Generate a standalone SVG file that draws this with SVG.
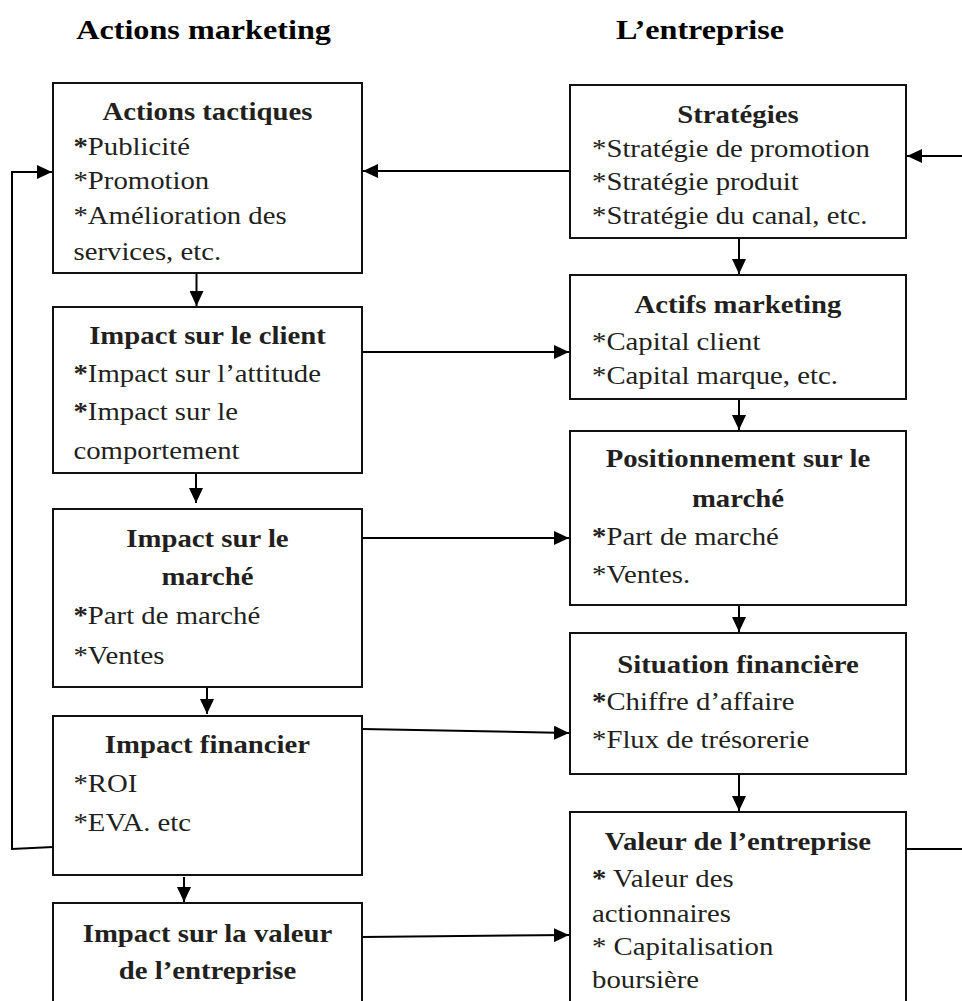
<svg xmlns="http://www.w3.org/2000/svg" width="962" height="1001" viewBox="0 0 962 1001">
<style>
.box{fill:#fff;stroke:#111;stroke-width:2}
.ln{fill:none;stroke:#000;stroke-width:2}
text{font-family:"Liberation Serif","Times New Roman",serif;font-size:25px;fill:#231f20}
.h{font-size:28px;font-weight:bold;fill:#000;text-anchor:middle}
.t{font-weight:bold;text-anchor:middle}
.b{font-weight:bold}
</style>
<defs>
<marker id="arr" markerUnits="userSpaceOnUse" markerWidth="15" markerHeight="14" refX="15" refY="7" orient="auto">
<path d="M0,0 L15,7 L0,14 z" fill="#000"/>
</marker>
</defs>
<g id="connectors">
<line class="ln" x1="570" y1="171" x2="363" y2="171" marker-end="url(#arr)"/>
<line class="ln" x1="962" y1="156" x2="907" y2="156" marker-end="url(#arr)"/>
<polyline class="ln" points="53,847 12,849 12,172 52,172" marker-end="url(#arr)"/>
<line class="ln" x1="362" y1="352" x2="569" y2="352" marker-end="url(#arr)"/>
<line class="ln" x1="362" y1="538" x2="569" y2="538" marker-end="url(#arr)"/>
<line class="ln" x1="362" y1="729" x2="569" y2="733" marker-end="url(#arr)"/>
<line class="ln" x1="362" y1="937" x2="569" y2="935" marker-end="url(#arr)"/>
<line class="ln" x1="906" y1="849" x2="962" y2="849"/>
<line class="ln" x1="196.5" y1="273" x2="196.5" y2="306" marker-end="url(#arr)"/>
<line class="ln" x1="196" y1="473" x2="196" y2="503" marker-end="url(#arr)"/>
<line class="ln" x1="207" y1="687" x2="207" y2="714" marker-end="url(#arr)"/>
<line class="ln" x1="184" y1="877" x2="184" y2="902" marker-end="url(#arr)"/>
<line class="ln" x1="739" y1="238" x2="739" y2="274" marker-end="url(#arr)"/>
<line class="ln" x1="739" y1="399" x2="739" y2="430" marker-end="url(#arr)"/>
<line class="ln" x1="739" y1="605" x2="739" y2="632" marker-end="url(#arr)"/>
<line class="ln" x1="739" y1="774" x2="739" y2="811" marker-end="url(#arr)"/>
</g>
<g id="headers" transform="scale(1.15,1)">
<text class="h" x="177" y="39">Actions marketing</text>
<text class="h" x="608.7" y="39">L’entreprise</text>
</g>
<g id="actions-tactiques">
<rect class="box" x="53" y="83" width="309" height="190"/>
<g transform="scale(1.15,1)">
<text class="t" x="180.4" y="120">Actions tactiques</text>
<text x="63.9" y="155"><tspan class="b">*</tspan>Publicité</text>
<text x="63.9" y="189">*Promotion</text>
<text x="63.9" y="224">*Amélioration des</text>
<text x="63.9" y="260">services, etc.</text>
</g>
</g>
<g id="impact-client">
<rect class="box" x="53" y="307" width="309" height="166"/>
<g transform="scale(1.15,1)">
<text class="t" x="180.4" y="344">Impact sur le client</text>
<text x="63.9" y="382"><tspan class="b">*</tspan>Impact sur l’attitude</text>
<text x="63.9" y="420"><tspan class="b">*</tspan>Impact sur le</text>
<text x="63.9" y="459">comportement</text>
</g>
</g>
<g id="impact-marche">
<rect class="box" x="53" y="509" width="309" height="178"/>
<g transform="scale(1.15,1)">
<text class="t" x="180.4" y="547">Impact sur le</text>
<text class="t" x="180.4" y="585">marché</text>
<text x="63.9" y="624"><tspan class="b">*</tspan>Part de marché</text>
<text x="63.9" y="664">*Ventes</text>
</g>
</g>
<g id="impact-financier">
<rect class="box" x="53" y="716" width="309" height="159"/>
<g transform="scale(1.15,1)">
<text class="t" x="180.4" y="753">Impact financier</text>
<text x="63.9" y="792">*ROI</text>
<text x="63.9" y="831">*EVA. etc</text>
</g>
</g>
<g id="impact-valeur">
<rect class="box" x="53" y="903" width="309" height="130"/>
<g transform="scale(1.15,1)">
<text class="t" x="180.4" y="942">Impact sur la valeur</text>
<text class="t" x="180.4" y="979">de l’entreprise</text>
</g>
</g>
<g id="strategies">
<rect class="box" x="570" y="85" width="336" height="153"/>
<g transform="scale(1.15,1)">
<text class="t" x="641.7" y="123">Stratégies</text>
<text x="514.8" y="157">*Stratégie de promotion</text>
<text x="514.8" y="190">*Stratégie produit</text>
<text x="514.8" y="224">*Stratégie du canal, etc.</text>
</g>
</g>
<g id="actifs-marketing">
<rect class="box" x="570" y="275" width="336" height="124"/>
<g transform="scale(1.15,1)">
<text class="t" x="641.7" y="313">Actifs marketing</text>
<text x="514.8" y="350">*Capital client</text>
<text x="514.8" y="384">*Capital marque, etc.</text>
</g>
</g>
<g id="positionnement">
<rect class="box" x="570" y="431" width="336" height="174"/>
<g transform="scale(1.15,1)">
<text class="t" x="641.7" y="467">Positionnement sur le</text>
<text class="t" x="641.7" y="507">marché</text>
<text x="514.8" y="545"><tspan class="b">*</tspan>Part de marché</text>
<text x="514.8" y="583">*Ventes.</text>
</g>
</g>
<g id="situation-financiere">
<rect class="box" x="570" y="633" width="336" height="141"/>
<g transform="scale(1.15,1)">
<text class="t" x="641.7" y="673">Situation financière</text>
<text x="514.8" y="710"><tspan class="b">*</tspan>Chiffre d’affaire</text>
<text x="514.8" y="748">*Flux de trésorerie</text>
</g>
</g>
<g id="valeur-entreprise">
<rect class="box" x="570" y="812" width="336" height="220"/>
<g transform="scale(1.15,1)">
<text class="t" x="641.7" y="850">Valeur de l’entreprise</text>
<text x="514.8" y="887"><tspan class="b">*</tspan> Valeur des</text>
<text x="514.8" y="922">actionnaires</text>
<text x="514.8" y="955">* Capitalisation</text>
<text x="514.8" y="988">boursière</text>
</g>
</g>
</svg>
